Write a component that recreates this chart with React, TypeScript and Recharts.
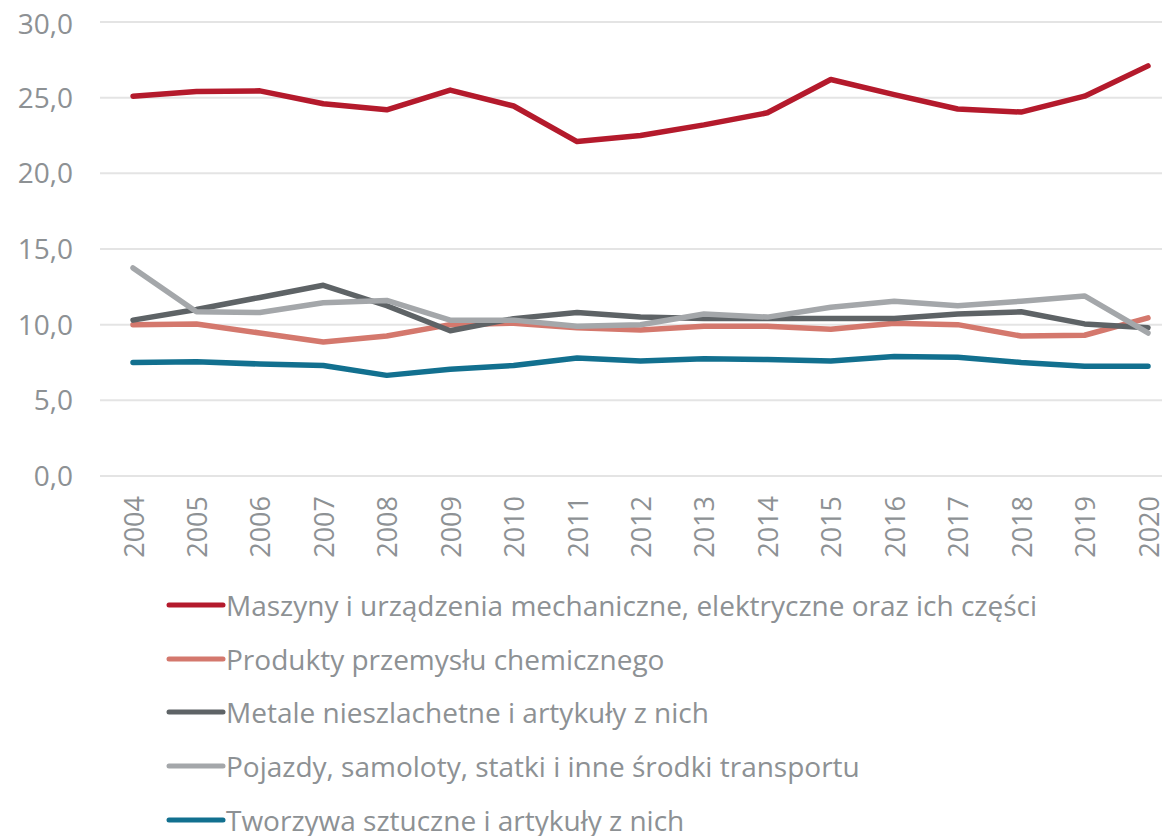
import React from "react";
import {
  LineChart,
  Line,
  XAxis,
  YAxis,
  CartesianGrid,
  Legend,
} from "recharts";

const years = [
  "2004", "2005", "2006", "2007", "2008", "2009", "2010", "2011", "2012",
  "2013", "2014", "2015", "2016", "2017", "2018", "2019", "2020",
];

const maszyny = [25.1, 25.4, 25.45, 24.6, 24.2, 25.5, 24.45, 22.1, 22.5, 23.2, 24.0, 26.2, 25.2, 24.25, 24.05, 25.1, 27.1];
const chemia = [10.0, 10.05, 9.45, 8.85, 9.25, 10.0, 10.1, 9.8, 9.65, 9.9, 9.9, 9.7, 10.1, 10.0, 9.25, 9.3, 10.45];
const metale = [10.3, 11.0, 11.8, 12.6, 11.25, 9.6, 10.4, 10.8, 10.5, 10.4, 10.4, 10.4, 10.4, 10.7, 10.85, 10.05, 9.8];
const pojazdy = [13.75, 10.85, 10.8, 11.45, 11.6, 10.3, 10.3, 9.9, 10.0, 10.7, 10.5, 11.15, 11.55, 11.25, 11.55, 11.9, 9.45];
const tworzywa = [7.5, 7.55, 7.4, 7.3, 6.65, 7.05, 7.3, 7.8, 7.6, 7.75, 7.7, 7.6, 7.9, 7.85, 7.5, 7.25, 7.25];

const yTicks = [0, 5, 10, 15, 20, 25, 30];

const series = [
  { key: "maszyny", name: "Maszyny i urządzenia mechaniczne, elektryczne oraz ich części", color: "#B41A2C", values: maszyny },
  { key: "chemia", name: "Produkty przemysłu chemicznego", color: "#D4786D", values: chemia },
  { key: "metale", name: "Metale nieszlachetne i artykuły z nich", color: "#5E6366", values: metale },
  { key: "pojazdy", name: "Pojazdy, samoloty, statki i inne środki transportu", color: "#A4A7AA", values: pojazdy },
  { key: "tworzywa", name: "Tworzywa sztuczne i artykuły z nich", color: "#12708F", values: tworzywa },
];

const data = years.map((year, i) => {
  const row: Record<string, string | number> = { year };
  series.forEach((s) => {
    row[s.key] = s.values[i];
  });
  return row;
});

const FONT = "'Open Sans', sans-serif";
const TEXT = "#8D9194";

function YearTick(props: any) {
  const { x, y, payload } = props;
  return (
    <text
      x={x}
      y={y}
      transform={`rotate(-90, ${x}, ${y})`}
      textAnchor="end"
      dominantBaseline="central"
      fill={TEXT}
      fontSize={27}
      fontFamily={FONT}
    >
      {payload.value}
    </text>
  );
}

function LegendList() {
  return (
    <div style={{ fontFamily: FONT, fontSize: 28, color: TEXT, lineHeight: "34px" }}>
      {series.map((s) => (
        <div
          key={s.key}
          style={{ display: "flex", alignItems: "center", height: 53.7, whiteSpace: "nowrap" }}
        >
          <svg width={60} height={10}>
            <line x1={3} y1={5} x2={57} y2={5} stroke={s.color} strokeWidth={5} strokeLinecap="round" />
          </svg>
          <span>{s.name}</span>
        </div>
      ))}
    </div>
  );
}

export default function App() {
  return (
    <LineChart
      width={1162}
      height={828}
      data={data}
      margin={{ top: 14, right: 0, left: 0, bottom: 260 }}
      style={{ fontFamily: FONT, overflow: "visible" }}
    >
      <CartesianGrid vertical={false} stroke="#E4E4E4" strokeWidth={2} />
      <XAxis
        dataKey="year"
        scale="point"
        padding={{ left: 33, right: 22 }}
        axisLine={false}
        tickLine={false}
        tickMargin={14}
        height={100}
        interval={0}
        tick={<YearTick />}
      />
      <YAxis
        domain={[0, 30]}
        ticks={yTicks}
        width={92}
        axisLine={false}
        tickLine={false}
        tickMargin={21}
        tickFormatter={(v: number) => v.toFixed(1).replace(".", ",")}
        tick={{ fill: TEXT, fontSize: 28, fontFamily: FONT }}
      />
      <Legend
        layout="vertical"
        align="center"
        verticalAlign="middle"
        wrapperStyle={{ top: 570, left: 158, width: "auto" }}
        content={() => <LegendList />}
      />
      {series.map((s) => (
        <Line
          key={s.key}
          dataKey={s.key}
          name={s.name}
          stroke={s.color}
          strokeWidth={5.5}
          strokeLinecap="round"
          strokeLinejoin="round"
          dot={false}
          activeDot={false}
          isAnimationActive={false}
        />
      ))}
    </LineChart>
  );
}
